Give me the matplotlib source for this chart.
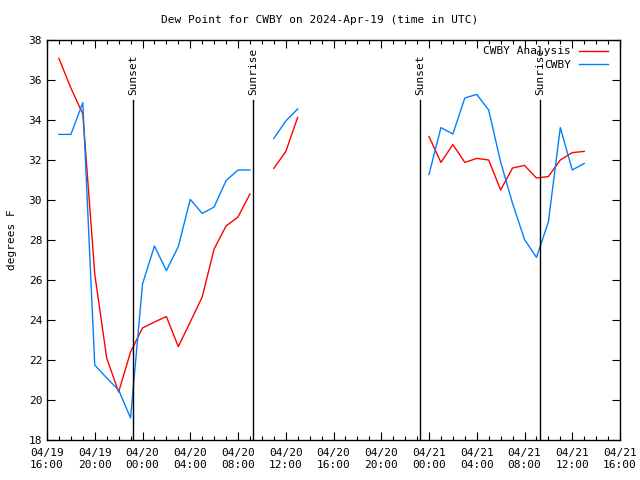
import numpy as np
import matplotlib
matplotlib.use("Agg")
import matplotlib.pyplot as plt

nan = np.nan
# hours after 04/19 16:00 UTC
hours = list(range(1, 46))
analysis = [37.08, 35.6, 34.3, 26.3, 22.1, 20.4, 22.4, 23.6, 23.9, 24.17,
            22.67, 23.9, 25.15, 27.55, 28.7, 29.15, 30.3, nan, 31.58, 32.42,
            34.13, nan, nan, nan, nan, nan, nan, nan, nan, nan,
            nan, 33.17, 31.88, 32.77, 31.88, 32.08, 32.0, 30.5, 31.6, 31.73,
            31.1, 31.17, 32.0, 32.37, 32.43]
observed = [33.28, 33.28, 34.87, 21.75, 21.1, 20.5, 19.1, 25.8, 27.7, 26.47,
            27.67, 30.03, 29.33, 29.65, 30.97, 31.5, 31.5, nan, 33.08, 33.95,
            34.55, nan, nan, nan, nan, nan, nan, nan, nan, nan,
            nan, 31.28, 33.62, 33.3, 35.1, 35.28, 34.5, 31.9, 29.83, 28.03,
            27.13, 28.9, 33.62, 31.5, 31.83]
sun_hours = [7.2, 17.25, 31.25, 41.3]
sun_labels = ["Sunset", "Sunrise", "Sunset", "Sunrise"]
xtick_labels = ["04/19\n16:00", "04/19\n20:00", "04/20\n00:00", "04/20\n04:00",
                "04/20\n08:00", "04/20\n12:00", "04/20\n16:00", "04/20\n20:00",
                "04/21\n00:00", "04/21\n04:00", "04/21\n08:00", "04/21\n12:00",
                "04/21\n16:00"]

plt.rcParams['font.family'] = ['DejaVu Sans Mono']
plt.rcParams['font.size'] = 8

fig = plt.figure(figsize=(6.4, 4.8), dpi=100)
ax = fig.add_axes([47/640, 1-440/480, (620-47)/640, 400/480])

ax.plot(hours, analysis, color='#ff0000', lw=1, label='CWBY Analysis')
ax.plot(hours, observed, color='#0080ff', lw=1, label='CWBY')

for h, lab in zip(sun_hours, sun_labels):
    ax.plot([h, h], [18, 35], color='black', lw=1)
    ax.text(h, 35.25, lab, rotation=90, ha='center', va='bottom', fontsize=8)

ax.set_xlim(0, 48)
ax.set_ylim(18, 38)
ax.set_xticks(np.arange(0, 49, 4))
ax.set_xticklabels(xtick_labels)
ax.set_xticks(np.arange(0, 49, 1), minor=True)
ax.set_yticks(np.arange(18, 39, 2))
ax.tick_params(which='both', direction='in', top=True, right=True, width=0.8)
ax.tick_params(which='major', length=6)
ax.tick_params(which='minor', length=3)
ax.tick_params(axis='x', pad=6)
for s in ax.spines.values():
    s.set_linewidth(1)

ax.set_ylabel('degrees F')
ax.yaxis.set_label_coords(-0.052, 0.5)
fig.text(0.5, 1-20/480, 'Dew Point for CWBY on 2024-Apr-19 (time in UTC)',
         ha='center', va='center', fontsize=8)

leg = ax.legend(loc='upper right', bbox_to_anchor=(1 - 8/573, 1 - 2/400),
                frameon=False, markerfirst=False,
                handlelength=2.6, borderaxespad=0.0, labelspacing=0.35,
                handletextpad=0.7, fontsize=8)

fig.savefig('out.png', dpi=100)
